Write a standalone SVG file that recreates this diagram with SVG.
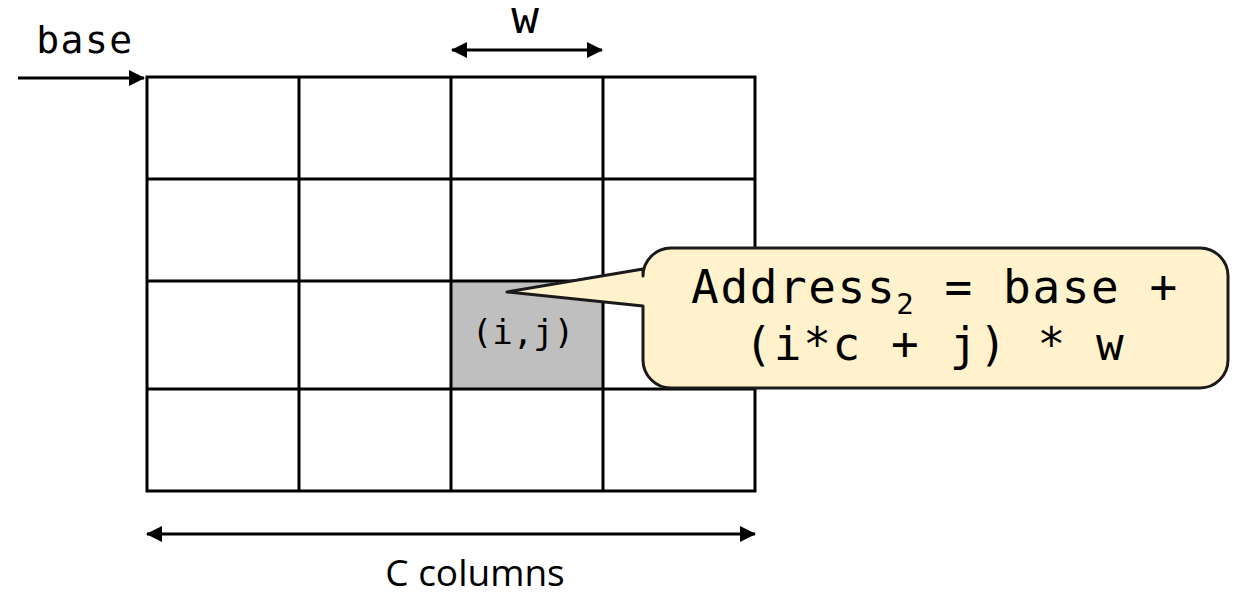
<svg xmlns="http://www.w3.org/2000/svg" width="1238" height="595" viewBox="0 0 1238 595">
  <style>
    .grid { fill: none; stroke: #000; stroke-width: 3; }
    .conn { stroke: #000; stroke-width: 3; fill: none; }
    .mono { font-family: "DejaVu Sans Mono", "Liberation Mono", monospace; fill: #000; }
    .sans { font-family: "Open Sans", "Noto Sans", "Liberation Sans", sans-serif; fill: #000; }
  </style>
  <defs>
    <marker id="head" viewBox="0 0 16 16" refX="15" refY="8" markerWidth="16" markerHeight="16" markerUnits="userSpaceOnUse" orient="auto-start-reverse">
      <path d="M0,0 L16,8 L0,16 Z" fill="#000"/>
    </marker>
  </defs>
  <rect width="1238" height="595" fill="#fff"/>

  <!-- 4x4 array grid with the highlighted element -->
  <g id="grid">
    <rect x="451" y="281" width="152" height="108" fill="#bfbfbf"/>
    <rect class="grid" x="147" y="77" width="608" height="414"/>
    <path class="grid" d="M299,77 V491 M451,77 V491 M603,77 V491 M147,179 H755 M147,281 H755 M147,389 H755"/>
  </g>

  <g id="cell-label">
    <text class="mono" x="523" y="344" font-size="34" text-anchor="middle">(i,j)</text>
  </g>

  <!-- dimension and pointer arrows -->
  <g id="connectors">
    <line class="conn" x1="18" y1="78" x2="144" y2="78" marker-end="url(#head)"/>
    <line class="conn" x1="452" y1="50" x2="602" y2="50" marker-start="url(#head)" marker-end="url(#head)"/>
    <line class="conn" x1="147" y1="534" x2="755" y2="534" marker-start="url(#head)" marker-end="url(#head)"/>
  </g>

  <g id="base-label">
    <text class="mono" x="85" y="53" font-size="38" letter-spacing="1.5" text-anchor="middle">base</text>
  </g>
  <g id="w-label">
    <text class="mono" x="525" y="33" font-size="46" text-anchor="middle">w</text>
  </g>
  <g id="columns-label">
    <text class="sans" x="475" y="586" font-size="37" text-anchor="middle">C columns</text>
  </g>

  <!-- address formula callout -->
  <g id="callout">
    <path d="M671,248 H1200 A28,28 0 0 1 1228,276 V360 A28,28 0 0 1 1200,388 H671 A28,28 0 0 1 643,360 V306 L507,292 L643,269 V276 A28,28 0 0 1 671,248 Z" fill="#fff2cc" stroke="#1a1a1a" stroke-width="3" stroke-linejoin="round"/>
    <text class="mono" x="935" y="303" font-size="46" letter-spacing="1.6" text-anchor="middle">Address<tspan font-size="29" dy="11">2</tspan><tspan dy="-11"> = base +</tspan></text>
    <text class="mono" x="935" y="360" font-size="46" letter-spacing="1.6" text-anchor="middle">(i*c + j) * w</text>
  </g>
</svg>
